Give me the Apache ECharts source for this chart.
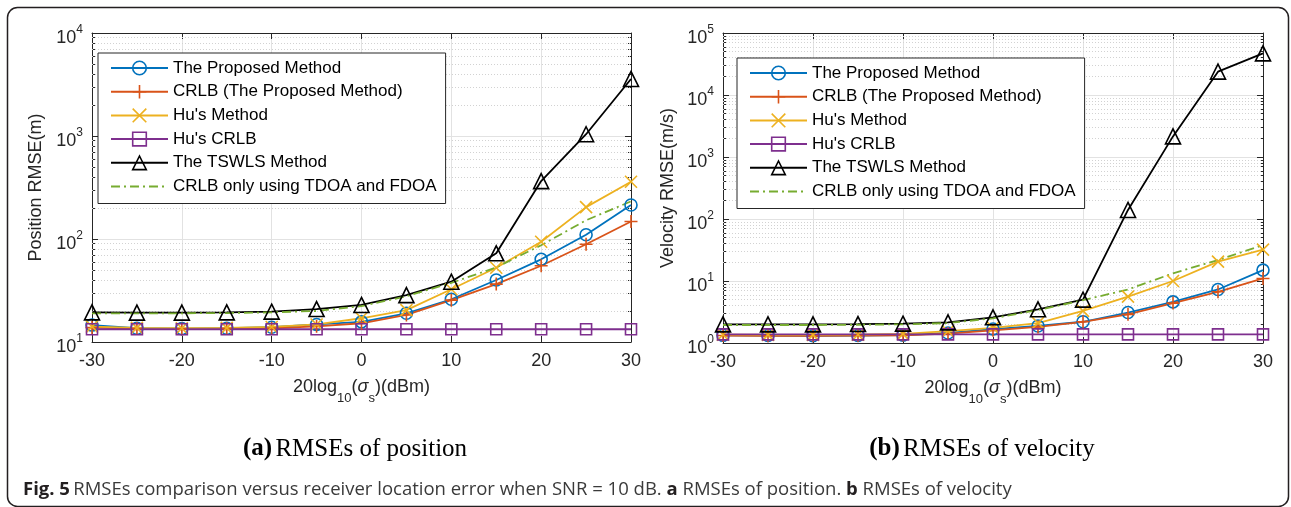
<!DOCTYPE html>
<html>
<head>
<meta charset="utf-8">
<script src="https://cdn.jsdelivr.net/npm/echarts@6/dist/echarts.min.js"></script>
<style>
html, body { margin: 0; padding: 0; background: #fff; }
#chart { width: 1291px; height: 507px; }
</style>
</head>
<body>
<div id="chart"></div>
<script>
// Receiver location error levels, 20log10(sigma_s) in dBm
const sigmaDbm = [-30, -25, -20, -15, -10, -5, 0, 5, 10, 15, 20, 25, 30];
const xTickValues = [-30, -20, -10, 0, 10, 20, 30];

// Position RMSE (m)
const posProposed = [14.6, 13.6, 13.5, 13.6, 13.9, 14.8, 15.7, 19.0, 26.0, 40.0, 63.5, 110, 214];
const posCrlb     = [13.8, 13.5, 13.4, 13.5, 13.6, 14.2, 15.2, 18.3, 25.5, 36.5, 55.0, 89, 148];
const posHu       = [14.1, 13.7, 13.6, 13.7, 14.0, 14.8, 17.0, 20.4, 32.5, 52.6, 94.0, 204, 360];
const posHuCrlb   = [13.3, 13.3, 13.3, 13.3, 13.3, 13.3, 13.3, 13.3, 13.3, 13.3, 13.3, 13.3, 13.3];
const posTswls    = [19.4, 19.3, 19.3, 19.4, 19.7, 20.9, 22.9, 28.5, 38.5, 72.6, 365, 1040, 3580];
const posCrlbTF   = [19.0, 19.0, 19.0, 19.1, 19.4, 20.0, 22.3, 27.8, 37.5, 53.0, 87.0, 152, 232];

// Velocity RMSE (m/s)
const velProposed = [1.33, 1.32, 1.31, 1.32, 1.34, 1.45, 1.68, 1.88, 2.2, 3.1, 4.6, 7.3, 15];
const velCrlb     = [1.32, 1.31, 1.31, 1.32, 1.33, 1.42, 1.60, 1.82, 2.2, 2.9, 4.4, 6.7, 11];
const velHu       = [1.36, 1.35, 1.35, 1.36, 1.40, 1.55, 1.75, 2.10, 3.3, 5.6, 10.0, 20.5, 32];
const velHuCrlb   = [1.38, 1.38, 1.38, 1.38, 1.38, 1.38, 1.38, 1.38, 1.38, 1.38, 1.38, 1.38, 1.38];
const velTswls    = [2.0, 2.0, 2.0, 2.02, 2.05, 2.15, 2.6, 3.5, 5.0, 140, 2150, 23800, 47000];
const velCrlbTF   = [1.95, 1.95, 1.95, 1.97, 2.0, 2.1, 2.5, 3.4, 4.9, 7.3, 13.3, 21.8, 38];

const seriesNames = [
  'The Proposed Method',
  'CRLB (The Proposed Method)',
  "Hu's Method",
  "Hu's CRLB",
  'The TSWLS Method',
  'CRLB only using TDOA and FDOA'
];

// Decade ranges of the two log axes
const posDecades = [10, 100, 1000];
const velDecades = [1, 10, 100, 1000, 10000];
const minorFactors = [2, 3, 4, 5, 6, 7, 8, 9];

const FONT = '"Liberation Sans", Arial, Helvetica, sans-serif';
const AXIS_COLOR = '#262626';
const COLORS = ['#0072BD', '#D95319', '#EDB120', '#7E2F8E', '#000000', '#77AC30'];
const PLUS = 'path://M0,-1L0,1M-1,0L1,0';
const CROSS = 'path://M-1,-1L1,1M-1,1L1,-1';

function minorLevels(decades) {
  const out = [];
  decades.forEach(d => minorFactors.forEach(f => out.push(d * f)));
  return out;
}

function lineSeries(name, values, panel, color, symbol, size, dashed) {
  return {
    name: name,
    type: 'line',
    xAxisIndex: panel * 2,
    yAxisIndex: panel * 2,
    data: sigmaDbm.map((s, i) => [s, values[i]]),
    symbol: symbol || 'none',
    showSymbol: !!symbol,
    symbolSize: size || 10,
    lineStyle: { color: color, width: 1.8, type: dashed ? [9, 4, 2, 4] : 'solid' },
    itemStyle: { color: 'transparent', borderColor: color, borderWidth: 1.6 },
    emphasis: { disabled: true },
    silent: true,
    z: 3
  };
}

function panelSeries(panel, sets, decades) {
  const list = [
    lineSeries(seriesNames[0], sets[0], panel, COLORS[0], 'circle', 12),
    lineSeries(seriesNames[1], sets[1], panel, COLORS[1], PLUS, 13),
    lineSeries(seriesNames[2], sets[2], panel, COLORS[2], CROSS, 12),
    lineSeries(seriesNames[3], sets[3], panel, COLORS[3], 'rect', 11),
    lineSeries(seriesNames[4], sets[4], panel, COLORS[4], 'triangle', 15),
    lineSeries(seriesNames[5], sets[5], panel, COLORS[5], null, 0, true)
  ];
  // dotted minor grid at 2..9 of every decade
  list[3].markLine = {
    silent: true,
    z: 1,
    symbol: ['none', 'none'],
    label: { show: false },
    emphasis: { disabled: true },
    lineStyle: { color: '#d2d2d2', width: 1, type: [1, 2] },
    data: minorLevels(decades).map(v => ({ yAxis: v }))
  };
  return list;
}

function xAxes(grid) {
  const common = {
    gridIndex: grid,
    type: 'value',
    min: -30,
    max: 30,
    interval: 10,
    axisLine: { show: true, onZero: false, lineStyle: { color: AXIS_COLOR, width: 1 } },
    axisTick: { show: true, inside: true, length: 6, lineStyle: { color: AXIS_COLOR } }
  };
  return [
    Object.assign({}, common, {
      position: 'bottom',
      axisLabel: { fontSize: 18, color: AXIS_COLOR, fontFamily: FONT, margin: 10,
        formatter: v => (xTickValues.indexOf(v) >= 0 ? String(v) : '') },
      splitLine: { show: true, lineStyle: { color: '#e2e2e2', width: 1 } },
      name: '{n|20log}{s|10}{n|(}{g|σ}{s|s}{n|)(dBm)}',
      nameLocation: 'middle',
      nameGap: 36,
      nameTextStyle: {
        rich: {
          n: { fontSize: 18, lineHeight: 18, color: AXIS_COLOR, fontFamily: FONT, verticalAlign: 'top' },
          g: { fontSize: 18, lineHeight: 18, color: AXIS_COLOR, fontFamily: FONT, fontStyle: 'italic', verticalAlign: 'top' },
          s: { fontSize: 13, lineHeight: 13, color: AXIS_COLOR, fontFamily: FONT, verticalAlign: 'top', padding: [14, 0, 0, 0] }
        }
      }
    }),
    Object.assign({}, common, {
      position: 'top',
      axisLabel: { show: false },
      splitLine: { show: false }
    })
  ];
}

function yAxes(grid, min, max, title, nameGap) {
  const common = {
    gridIndex: grid,
    type: 'log',
    logBase: 10,
    min: min,
    max: max,
    axisLine: { show: true, onZero: false, lineStyle: { color: AXIS_COLOR, width: 1 } },
    axisTick: { show: true, inside: true, length: 6, lineStyle: { color: AXIS_COLOR } },
    minorTick: { show: true, splitNumber: 9, length: 3, lineStyle: { color: AXIS_COLOR } }
  };
  return [
    Object.assign({}, common, {
      position: 'left',
      axisLabel: {
        margin: 9,
        formatter: v => '{b|10}{e|' + Math.round(Math.log10(v)) + '}',
        rich: {
          b: { fontSize: 18, lineHeight: 18, color: AXIS_COLOR, fontFamily: FONT, verticalAlign: 'top', padding: [5, 0, 0, 0] },
          e: { fontSize: 12, lineHeight: 12, color: AXIS_COLOR, fontFamily: FONT, verticalAlign: 'top' }
        }
      },
      splitLine: { show: true, lineStyle: { color: '#e2e2e2', width: 1 } },
      name: title,
      nameLocation: 'middle',
      nameGap: nameGap,
      nameTextStyle: { fontSize: 18, color: AXIS_COLOR, fontFamily: FONT }
    }),
    Object.assign({}, common, {
      position: 'right',
      axisLabel: { show: false },
      splitLine: { show: false }
    })
  ];
}

const legendCommon = {
  orient: 'vertical',
  itemWidth: 57,
  itemHeight: 17,
  itemGap: 5.7,
  padding: [6, 9, 8, 12],
  backgroundColor: '#ffffff',
  borderColor: AXIS_COLOR,
  borderWidth: 1,
  selectedMode: false,
  textStyle: { fontSize: 17, lineHeight: 18, color: '#000', fontFamily: FONT },
  itemStyle: { borderWidth: 1.6 },
  data: seriesNames.map(n => n === seriesNames[5]
    ? { name: n, itemStyle: { borderColor: 'transparent', borderWidth: 0 } }
    : n),
  z: 10
};

const CAPTION_FONT = '"Open Sans", "Noto Sans", sans-serif';
const SERIF = '"Liberation Serif", "Times New Roman", serif';

const option = {
  animation: false,
  backgroundColor: '#ffffff',
  grid: [
    { left: 92, top: 33, width: 539, height: 309 },
    { left: 723, top: 33, width: 540, height: 310 }
  ],
  xAxis: xAxes(0).concat(xAxes(1)),
  yAxis: yAxes(0, 10, 10000, 'Position RMSE(m)', 47)
    .concat(yAxes(1, 1, 100000, 'Velocity RMSE(m/s)', 46)),
  legend: [
    Object.assign({}, legendCommon, { left: 98, top: 53 }),
    Object.assign({}, legendCommon, { left: 737, top: 58 })
  ],
  series: panelSeries(0, [posProposed, posCrlb, posHu, posHuCrlb, posTswls, posCrlbTF], posDecades)
    .concat(panelSeries(1, [velProposed, velCrlb, velHu, velHuCrlb, velTswls, velCrlbTF], velDecades)),
  graphic: [
    {
      type: 'rect', silent: true, z: 100,
      shape: { x: 7.5, y: 7.5, width: 1281, height: 499, r: 10 },
      style: { fill: 'none', stroke: '#231f20', lineWidth: 1.5 }
    },
    {
      type: 'text', silent: true, z: 100, x: 355, y: 449,
      style: {
        text: '{b|(a)} {r|RMSEs of position}',
        align: 'center', verticalAlign: 'middle',
        rich: {
          b: { fontSize: 25, fontWeight: 'bold', fontFamily: SERIF, fill: '#000' },
          r: { fontSize: 25, fontFamily: SERIF, fill: '#000' }
        }
      }
    },
    {
      type: 'text', silent: true, z: 100, x: 982, y: 449,
      style: {
        text: '{b|(b)} {r|RMSEs of velocity}',
        align: 'center', verticalAlign: 'middle',
        rich: {
          b: { fontSize: 25, fontWeight: 'bold', fontFamily: SERIF, fill: '#000' },
          r: { fontSize: 25, fontFamily: SERIF, fill: '#000' }
        }
      }
    },
    {
      type: 'text', silent: true, z: 100, x: 23, y: 490,
      style: {
        text: '{b|Fig. 5} {r|RMSEs comparison versus receiver location error when SNR = 10 dB. }{b|a}{r| RMSEs of position. }{b|b}{r| RMSEs of velocity}',
        align: 'left', verticalAlign: 'middle',
        rich: {
          b: { fontSize: 18.5, fontWeight: 'bold', fontFamily: CAPTION_FONT, fill: '#231f20' },
          r: { fontSize: 18.5, fontFamily: CAPTION_FONT, fill: '#3a3a3a' }
        }
      }
    }
  ]
};

const chart = echarts.init(document.getElementById('chart'), null, { renderer: 'canvas', width: 1291, height: 507 });
chart.setOption(option);
</script>
</body>
</html>
